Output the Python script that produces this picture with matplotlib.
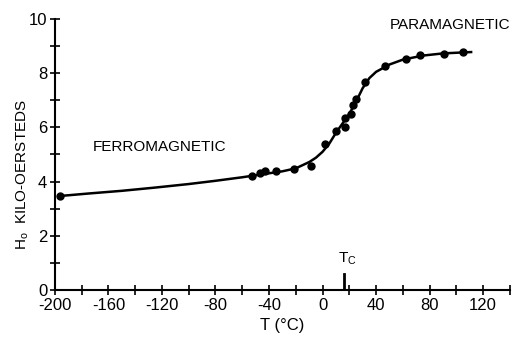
"""Saturation field H0 against temperature, ferro- to paramagnetic."""

import matplotlib.pyplot as plt
import numpy as np

# measured points (T in deg C, H0 in kilo-oersteds)
temp_pts = [-196, -53, -47, -43, -35, -21, -9, 2, 10, 17, 17, 21, 23, 25, 31.5, 47, 62, 73, 91, 105]
h_pts = [3.47, 4.21, 4.33, 4.38, 4.40, 4.48, 4.56, 5.38, 5.88, 6.0, 6.34, 6.49, 6.83, 7.04, 7.66, 8.27, 8.52, 8.66, 8.70, 8.78]

# smooth curve drawn through the data
temp_curve = [-196, -175, -150, -125, -100, -80, -60, -45, -30, -20, -10, -5, 0, 5, 10, 15, 20, 25,
              30, 35, 40, 50, 60, 75, 90, 111]
h_curve = [3.47, 3.56, 3.66, 3.78, 3.91, 4.03, 4.16, 4.27, 4.38, 4.49, 4.72, 4.88, 5.1, 5.4, 5.8, 6.15,
           6.5, 6.95, 7.45, 7.82, 8.05, 8.32, 8.5, 8.65, 8.73, 8.78]

x_ticks = np.arange(-200, 141, 20)
x_labels = ["-200", "", "-160", "", "-120", "", "-80", "", "-40", "", "0", "", "40", "", "80", "", "120", ""]
y_ticks = np.arange(0, 11, 1)
y_labels = ["0", "", "2", "", "4", "", "6", "", "8", "", "10"]

t_curie = 16

plt.rcParams["font.family"] = ["Liberation Sans", "DejaVu Sans"]
plt.rcParams["mathtext.fontset"] = "custom"
plt.rcParams["mathtext.rm"] = "Liberation Sans"
plt.rcParams["mathtext.sf"] = "Liberation Sans"

fig = plt.figure(figsize=(5.13, 3.39), dpi=100)
ax = fig.add_axes([0.107, 0.1445, 0.887, 0.7995])

ax.plot(temp_curve, h_curve, color="black", lw=1.8)
ax.plot(temp_pts, h_pts, "o", color="black", ms=5)

# Curie temperature marker
ax.plot([t_curie, t_curie], [0, 0.58], color="black", lw=2)
ax.text(t_curie + 2.5, 0.85, r"T$_\mathsf{C}$", ha="center", va="bottom", fontsize=11)

ax.text(-122, 5.28, "FERROMAGNETIC", ha="center", va="center", fontsize=11)
ax.text(95, 9.78, "PARAMAGNETIC", ha="center", va="center", fontsize=11)

ax.set_xlim(-200, 140)
ax.set_ylim(0, 10)
ax.set_xticks(x_ticks)
ax.set_xticklabels(x_labels, fontsize=12)
ax.set_yticks(y_ticks)
ax.set_yticklabels(y_labels, fontsize=12)
ax.tick_params(direction="inout", length=7, width=1.2, pad=2)

for side in ["top", "right"]:
    ax.spines[side].set_visible(False)
for side in ["left", "bottom"]:
    ax.spines[side].set_linewidth(1.5)

ax.set_xlabel("T (°C)", fontsize=12, labelpad=4)
ax.set_ylabel(r"H$_\mathsf{o}$  KILO-OERSTEDS", fontsize=11)
ax.yaxis.set_label_coords(-0.052, 0.428)

fig.savefig("out.png", dpi=100)
